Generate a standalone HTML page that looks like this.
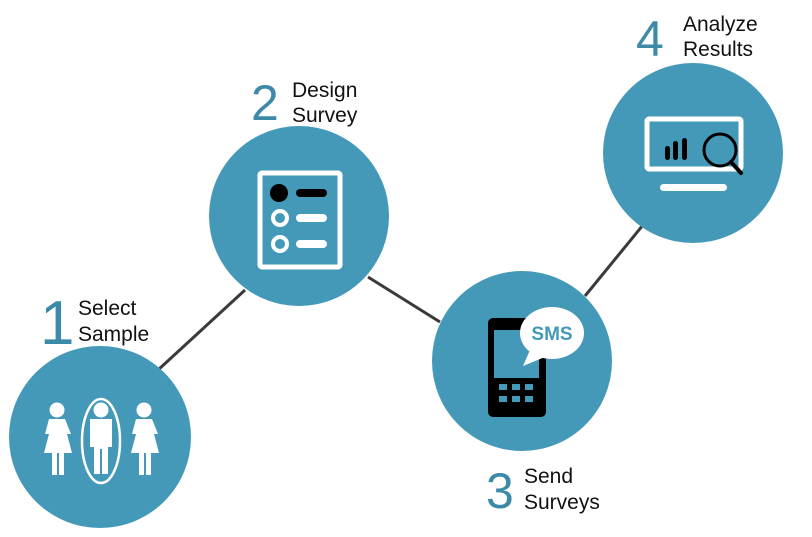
<!DOCTYPE html>
<html><head><meta charset="utf-8"><style>
html,body{margin:0;padding:0;background:#fff;}
svg{display:block}
text{font-family:"Liberation Sans","DejaVu Sans",sans-serif;}
</style></head><body>
<svg width="812" height="537" viewBox="0 0 812 537" xmlns="http://www.w3.org/2000/svg">
<g stroke="#3a3a3a" stroke-width="3">
<line x1="158" y1="370" x2="245" y2="290"/>
<line x1="368" y1="277" x2="440" y2="322"/>
<line x1="585" y1="296" x2="643" y2="225"/>
</g>
<g fill="#4499b8">
<circle cx="100" cy="437" r="91"/>
<circle cx="299" cy="216" r="90"/>
<circle cx="522" cy="361" r="90"/>
<circle cx="693" cy="153" r="90"/>
</g>
<g fill="#fff">
<circle cx="57" cy="410" r="7.5"/>
<path d="M49 419 h16 l6 15 l-4 0 l5 19 h-8 v22 h-5 v-22 h-2 v22 h-5 v-22 h-8 l5 -19 l-4 0 z"/>
<circle cx="101" cy="410" r="7.5"/>
<path d="M90 419 h22 v28 h-4 v27 h-6 v-25 h-2 v25 h-6 v-27 h-4 z"/>
<circle cx="144" cy="410" r="7.5"/>
<path d="M136 419 h16 l6 15 l-4 0 l5 19 h-8 v22 h-5 v-22 h-2 v22 h-5 v-22 h-8 l5 -19 l-4 0 z"/>
</g>
<ellipse cx="101" cy="441" rx="19" ry="42" fill="none" stroke="#fff" stroke-width="2.5"/>
<rect x="260" y="173" width="80" height="94" fill="none" stroke="#fff" stroke-width="5" rx="2"/>
<circle cx="279" cy="193" r="9" fill="#000"/>
<rect x="296" y="189" width="31" height="8" rx="4" fill="#000"/>
<circle cx="280" cy="218" r="7" fill="none" stroke="#fff" stroke-width="4"/>
<rect x="296" y="214" width="31" height="8" rx="4" fill="#fff"/>
<circle cx="280" cy="244" r="7" fill="none" stroke="#fff" stroke-width="4"/>
<rect x="296" y="240" width="31" height="8" rx="4" fill="#fff"/>
<rect x="488" y="318" width="58" height="99" rx="5" fill="#000"/>
<rect x="494" y="330" width="45" height="48" fill="#4499b8"/>
<g fill="#4499b8">
<rect x="499" y="384" width="8" height="6"/><rect x="512" y="384" width="8" height="6"/><rect x="525" y="384" width="8" height="6"/>
<rect x="499" y="396" width="8" height="6"/><rect x="512" y="396" width="8" height="6"/><rect x="525" y="396" width="8" height="6"/>
</g>
<path d="M530 350 L523 366 L545 357 Z" fill="#fff"/>
<ellipse cx="552" cy="333" rx="32" ry="26" fill="#fff"/>
<text x="552" y="340" font-size="19" font-weight="bold" fill="#4499b8" text-anchor="middle">SMS</text>
<rect x="647" y="119" width="94" height="50" fill="none" stroke="#fff" stroke-width="5" rx="2"/>
<rect x="660" y="184" width="67" height="7" rx="3.5" fill="#fff"/>
<g fill="#000">
<rect x="665" y="146" width="5" height="14" rx="2.5"/>
<rect x="673" y="141" width="5" height="19" rx="2.5"/>
<rect x="682" y="138" width="5" height="22" rx="2.5"/>
</g>
<circle cx="720" cy="150" r="16" fill="none" stroke="#000" stroke-width="3"/>
<line x1="731" y1="162" x2="741" y2="173" stroke="#000" stroke-width="4" stroke-linecap="round"/>
<g fill="#3d8aa8">
<text x="40" y="344" font-size="62">1</text>
<text x="251" y="120" font-size="50">2</text>
<text x="486" y="508" font-size="50">3</text>
<text x="636" y="56" font-size="50">4</text>
</g>
<g fill="#111" font-size="21">
<text x="78" y="315">Select</text>
<text x="78" y="341">Sample</text>
<text x="292" y="97">Design</text>
<text x="292" y="122">Survey</text>
<text x="524" y="483">Send</text>
<text x="524" y="509">Surveys</text>
<text x="683" y="31">Analyze</text>
<text x="683" y="56">Results</text>
</g>
</svg>
</body></html>
